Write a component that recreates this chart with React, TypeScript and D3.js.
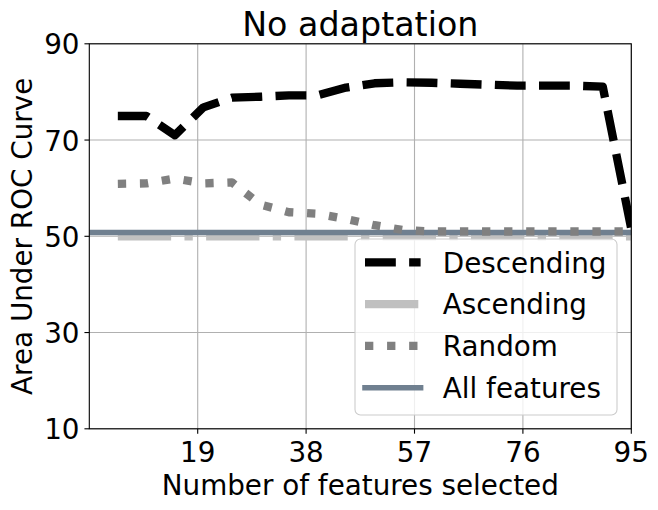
import React from "react";
import * as d3 from "d3";

const xValues = [5, 10, 15, 20, 25, 30, 35, 40, 45, 50, 55, 60, 65, 70, 75, 80, 85, 90, 95];
const descending = [75.0, 75.0, 71.0, 76.8, 78.8, 79.0, 79.3, 79.3, 80.9, 81.8, 82.0, 81.9, 81.7, 81.5, 81.3, 81.3, 81.3, 81.1, 51.5];
const ascending = [50.0, 50.0, 50.0, 50.0, 50.0, 50.0, 50.0, 50.0, 50.0, 50.0, 50.0, 50.0, 50.0, 50.0, 50.0, 50.0, 50.0, 50.0, 50.0];
const random = [60.9, 61.0, 62.0, 61.0, 61.2, 56.6, 55.0, 54.7, 53.6, 52.3, 51.3, 51.0, 51.0, 51.0, 51.0, 51.0, 51.0, 51.0, 51.0];
const allFeatures = 50.8;

const xTicks = [19, 38, 57, 76, 95];
const yTicks = [10, 30, 50, 70, 90];
const legendLabels = ["Descending", "Ascending", "Random", "All features"];

const W = 658;
const H = 510;
const FONT = "DejaVu Sans, sans-serif";
const LW = 8.33;

export default function App() {
  const x = d3.scaleLinear().domain([0, 95]).range([89.3, 631.3]);
  const y = d3.scaleLinear().domain([10, 90]).range([428.8, 43.8]);
  const [x0, x1] = x.range();
  const [y0, y1] = y.range();

  const line = d3
    .line<number>()
    .x((_, i) => x(xValues[i]))
    .y((d) => y(d));

  const lw = LW;
  const dashed = `${3.7 * lw} ${1.6 * lw}`;
  const dashdot = `${6.4 * lw} ${1.6 * lw} ${1 * lw} ${1.6 * lw}`;
  const dotted = `${1 * lw} ${1.65 * lw}`;

  const legendRows = [
    { label: legendLabels[0], stroke: "#000000", dash: dashed, width: lw, cap: "butt" },
    { label: legendLabels[1], stroke: "#c0c0c0", dash: dashdot, width: lw, cap: "butt" },
    { label: legendLabels[2], stroke: "#808080", dash: dotted, width: lw, cap: "butt" },
    { label: legendLabels[3], stroke: "#708090", dash: undefined, width: 5.56, cap: "square" },
  ];
  const legX = 355;
  const legY = 239;
  const rowY0 = 262.3;
  const rowStep = 41.8;

  return (
    <svg
      width={W}
      height={H}
      style={{ position: "absolute", left: 0, top: 0, background: "#ffffff" }}
      fontFamily={FONT}
    >
      <defs>
        <clipPath id="plotClip">
          <rect x={x0} y={y1} width={x1 - x0} height={y0 - y1} />
        </clipPath>
      </defs>
      <rect x={0} y={0} width={W} height={H} fill="#ffffff" />

      {/* grid */}
      {xTicks.map((t) => (
        <line key={"gx" + t} x1={x(t)} x2={x(t)} y1={y0} y2={y1} stroke="#b0b0b0" strokeWidth={1.1} />
      ))}
      {yTicks.map((t) => (
        <line key={"gy" + t} x1={x0} x2={x1} y1={y(t)} y2={y(t)} stroke="#b0b0b0" strokeWidth={1.1} />
      ))}

      <g clipPath="url(#plotClip)" fill="none">
        <path d={line(descending) || ""} stroke="#000000" strokeWidth={lw} strokeDasharray={dashed} strokeLinejoin="round" strokeLinecap="butt" />
        <path d={line(ascending) || ""} stroke="#c0c0c0" strokeWidth={lw} strokeDasharray={dashdot} strokeLinejoin="round" strokeLinecap="butt" />
        <line x1={x0} x2={x1} y1={y(allFeatures)} y2={y(allFeatures)} stroke="#708090" strokeWidth={5.56} />
        <path d={line(random) || ""} stroke="#808080" strokeWidth={lw} strokeDasharray={dotted} strokeLinejoin="round" strokeLinecap="butt" />
      </g>

      {/* frame */}
      <rect x={x0} y={y1} width={x1 - x0} height={y0 - y1} fill="none" stroke="#000000" strokeWidth={1.1} />

      {/* x ticks */}
      {xTicks.map((t) => (
        <g key={"xt" + t}>
          <line x1={x(t)} x2={x(t)} y1={y0} y2={y0 + 4.86} stroke="#000" strokeWidth={1.1} />
          <text x={x(t)} y={462} fontSize={27.8} textAnchor="middle" fill="#000">
            {t}
          </text>
        </g>
      ))}
      {/* y ticks */}
      {yTicks.map((t) => (
        <g key={"yt" + t}>
          <line x1={x0 - 4.86} x2={x0} y1={y(t)} y2={y(t)} stroke="#000" strokeWidth={1.1} />
          <text x={79.5} y={y(t) + 10.5} fontSize={27.8} textAnchor="end" fill="#000">
            {t}
          </text>
        </g>
      ))}

      {/* labels */}
      <text x={(x0 + x1) / 2} y={36} fontSize={33.3} textAnchor="middle" fill="#000">
        No adaptation
      </text>
      <text x={(x0 + x1) / 2} y={495} fontSize={27.8} textAnchor="middle" fill="#000">
        Number of features selected
      </text>
      <text
        transform={`translate(32,${(y0 + y1) / 2}) rotate(-90)`}
        fontSize={27.8}
        textAnchor="middle"
        fill="#000"
      >
        Area Under ROC Curve
      </text>

      {/* legend */}
      <rect x={legX} y={legY} width={262} height={176} rx={5.5} ry={5.5} fill="#ffffff" fillOpacity={0.8} stroke="#cccccc" strokeWidth={1.1} />
      {legendRows.map((r, i) => {
        const cy = rowY0 + i * rowStep;
        return (
          <g key={r.label}>
            <line
              x1={365}
              x2={420.6}
              y1={cy}
              y2={cy}
              stroke={r.stroke}
              strokeWidth={r.width}
              strokeDasharray={r.dash}
              strokeLinecap={r.cap as any}
            />
            <text x={442.8} y={cy + 10.2} fontSize={27.8} fill="#000">
              {r.label}
            </text>
          </g>
        );
      })}
    </svg>
  );
}
